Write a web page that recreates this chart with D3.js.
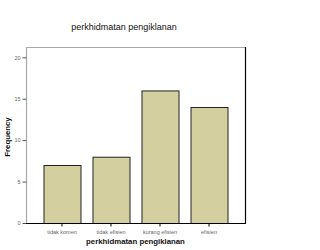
<!DOCTYPE html>
<html>
<head>
<meta charset="utf-8">
<script src="https://cdn.jsdelivr.net/npm/d3@7"></script>
<style>
  html, body { margin: 0; padding: 0; background: #fff; }
  svg { display: block; }
  text { font-family: "Liberation Sans", Arial, sans-serif; }
</style>
</head>
<body>
<svg id="chart" width="320" height="250"></svg>
<script>
// Response categories and their counts
const categories = ["tidak komen", "tidak efisien", "kurang efisien", "efisien"];
const frequencies = [7, 8, 16, 14];
const yTicks = [0, 5, 10, 15, 20];
const chartTitle = "perkhidmatan pengiklanan";
const xTitle = "perkhidmatan pengiklanan";
const yTitle = "Frequency";

const svg = d3.select("#chart");
const plotLeft = 26, plotRight = 245, plotTop = 47, plotBottom = 223;

const x = d3.scaleBand()
  .domain(categories)
  .range([plotLeft, plotRight])
  .paddingInner(0.245)
  .paddingOuter(0.357);

const y = d3.scaleLinear()
  .domain([0, 20])
  .range([plotBottom, 57.3]);

// Plot frame: light top/left, dark right/bottom
svg.append("line").attr("x1", plotLeft).attr("x2", plotRight).attr("y1", plotTop + 0.5).attr("y2", plotTop + 0.5)
  .attr("stroke", "#a8a8a8").attr("stroke-width", 1.2);
svg.append("line").attr("x1", plotRight + 0.5).attr("x2", plotRight + 0.5).attr("y1", plotTop).attr("y2", plotBottom)
  .attr("stroke", "#000").attr("stroke-width", 1.2);

// Bars
svg.append("g").selectAll("rect")
  .data(frequencies)
  .join("rect")
  .attr("x", (d, i) => x(categories[i]) + 0.5)
  .attr("y", d => y(d) + 0.5)
  .attr("width", x.bandwidth())
  .attr("height", d => plotBottom - y(d))
  .attr("fill", "#d3cf9f")
  .attr("stroke", "#222")
  .attr("stroke-width", 1);

// Y axis
const yAxis = svg.append("g")
  .attr("transform", `translate(${plotLeft + 0.5},0)`)
  .call(d3.axisLeft(y).tickValues(yTicks).tickSize(4).tickPadding(2).tickSizeOuter(0));
yAxis.select(".domain").attr("stroke", "#a8a8a8").attr("stroke-width", 1.2)
  .attr("d", `M0,${plotTop}V${plotBottom}`);
yAxis.selectAll(".tick line").attr("stroke", "#555");
yAxis.selectAll(".tick text").attr("font-size", 5.5).attr("fill", "#666").attr("font-family", "Liberation Sans, Arial, sans-serif");

// X axis
const xAxis = svg.append("g")
  .attr("transform", `translate(0,${plotBottom + 0.5})`)
  .call(d3.axisBottom(x).tickSize(3).tickPadding(4).tickSizeOuter(0));
xAxis.select(".domain").attr("stroke", "#000").attr("stroke-width", 1.2)
  .attr("d", `M${plotLeft},0H${plotRight + 1}`);
xAxis.selectAll(".tick line").attr("stroke", "#000");
xAxis.selectAll(".tick text").attr("font-size", 5.5).attr("fill", "#666").attr("font-family", "Liberation Sans, Arial, sans-serif");

// Titles
svg.append("text").attr("x", 124).attr("y", 30).attr("text-anchor", "middle")
  .attr("font-size", 9).attr("fill", "#111").text(chartTitle);
svg.append("text").attr("x", 135.5).attr("y", 244).attr("text-anchor", "middle")
  .attr("font-size", 7.8).attr("font-weight", "bold").attr("fill", "#111").text(xTitle);
svg.append("text").attr("transform", "translate(10,137) rotate(-90)").attr("text-anchor", "middle")
  .attr("font-size", 7.8).attr("font-weight", "bold").attr("fill", "#111").text(yTitle);
</script>
</body>
</html>
